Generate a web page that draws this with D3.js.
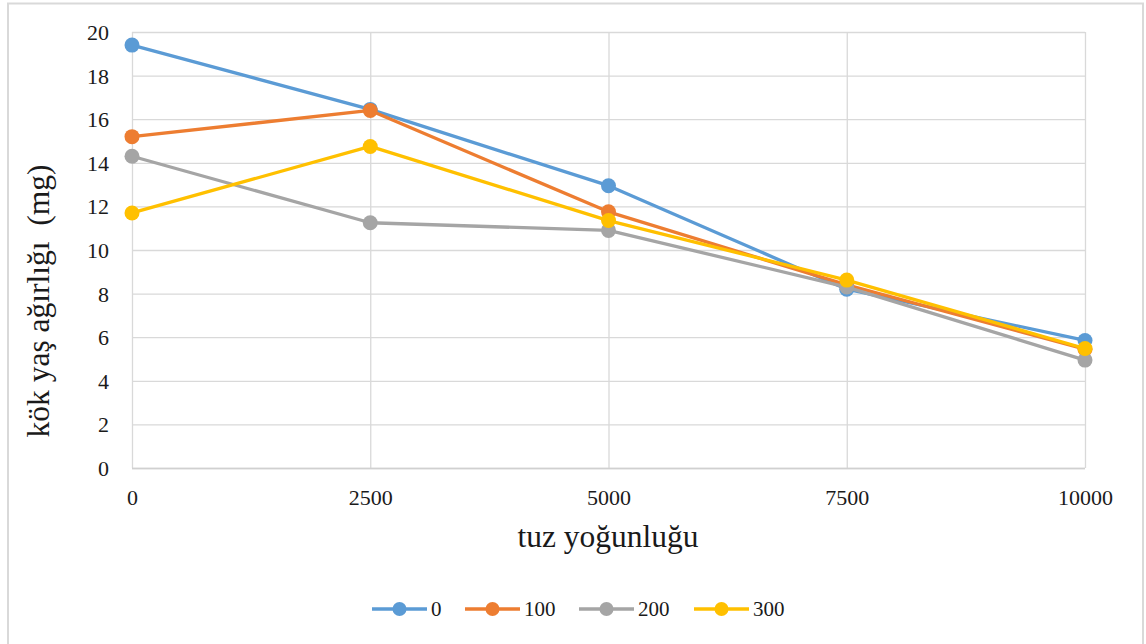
<!DOCTYPE html>
<html>
<head>
<meta charset="utf-8">
<script src="https://cdn.jsdelivr.net/npm/d3@7"></script>
<style>
  html, body { margin: 0; padding: 0; background: #ffffff; }
  svg { display: block; }
</style>
</head>
<body>
<svg id="chart" width="1146" height="644"></svg>
<script>
// Salt concentration levels on the x axis
const concentrations = [0, 2500, 5000, 7500, 10000];
// Series names (treatment doses)
const seriesNames = ["0", "100", "200", "300"];
// Root fresh weight (mg) per series
const values0   = [19.4, 16.45, 12.95, 8.2, 5.85];
const values100 = [15.2, 16.4, 11.75, 8.4, 5.45];
const values200 = [14.3, 11.25, 10.9, 8.3, 4.95];
const values300 = [11.7, 14.75, 11.35, 8.62, 5.48];
const seriesColors = ["#5b9bd5", "#ed7d31", "#a5a5a5", "#ffc000"];
const yTicks = [0, 2, 4, 6, 8, 10, 12, 14, 16, 18, 20];
const xTickLabels = ["0", "2500", "5000", "7500", "10000"];

const FONT = "'Liberation Serif'";
const TEXT_COLOR = "#1a1a1a";

const allValues = [values0, values100, values200, values300];
const series = seriesNames.map((name, i) => ({
  name,
  color: seriesColors[i],
  points: concentrations.map((c, j) => ({ x: c, y: allValues[i][j] }))
}));

const svg = d3.select("#chart");

// Chart frame
svg.append("rect")
  .attr("x", 8).attr("y", 3.5)
  .attr("width", 1135).attr("height", 650)
  .attr("fill", "#fff").attr("stroke", "#d9d9d9").attr("stroke-width", 2);

const plot = { left: 132, top: 32, right: 1085, bottom: 468 };

const x = d3.scaleLinear().domain([0, 10000]).range([plot.left, plot.right]);
const y = d3.scaleLinear().domain([0, 20]).range([plot.bottom, plot.top]);

// Horizontal gridlines and value labels
const yAxis = d3.axisLeft(y).tickValues(yTicks)
  .tickSize(-(plot.right - plot.left)).tickPadding(23).tickFormat(d3.format("d"));
const gy = svg.append("g").attr("transform", `translate(${plot.left},0)`).call(yAxis);
gy.select(".domain").remove();
gy.selectAll(".tick line").attr("stroke", "#d9d9d9").attr("stroke-width", 1.3);
gy.selectAll(".tick text")
  .style("font-family", FONT).style("font-size", "22px").style("fill", TEXT_COLOR)
  .attr("dy", "0.34em");

// Vertical gridlines at the concentration levels
const xAxis = d3.axisBottom(x).tickValues(concentrations)
  .tickSize(-(plot.bottom - plot.top)).tickFormat((d, i) => xTickLabels[i]);
const gx = svg.append("g").attr("transform", `translate(0,${plot.bottom})`).call(xAxis);
gx.select(".domain").remove();
gx.selectAll(".tick line").attr("stroke", "#d9d9d9").attr("stroke-width", 1.3);
gx.selectAll(".tick text")
  .style("font-family", FONT).style("font-size", "22px").style("fill", TEXT_COLOR)
  .attr("y", 37).attr("dy", 0);

// Baseline
svg.append("line")
  .attr("x1", plot.left).attr("x2", plot.right)
  .attr("y1", plot.bottom + 0.5).attr("y2", plot.bottom + 0.5)
  .attr("stroke", "#d0d0d0").attr("stroke-width", 1.5);

// Lines and markers
const line = d3.line().x(d => x(d.x)).y(d => y(d.y));
const gs = svg.append("g");
series.forEach(s => {
  const g = gs.append("g");
  g.append("path").datum(s.points)
    .attr("d", line).attr("fill", "none")
    .attr("stroke", s.color).attr("stroke-width", 3.3)
    .attr("stroke-linejoin", "round");
  g.selectAll("circle").data(s.points).enter().append("circle")
    .attr("cx", d => x(d.x)).attr("cy", d => y(d.y)).attr("r", 7.5)
    .attr("fill", s.color);
});

// Axis titles
svg.append("text")
  .attr("x", 608).attr("y", 547)
  .attr("text-anchor", "middle")
  .style("font-family", FONT).style("font-size", "31.5px").style("fill", TEXT_COLOR)
  .text("tuz yoğunluğu");

svg.append("text")
  .attr("transform", "translate(49,301) rotate(-90)")
  .attr("text-anchor", "middle")
  .style("font-family", FONT).style("font-size", "31.5px").style("fill", TEXT_COLOR)
  .style("white-space", "pre")
  .text("kök yaş ağırlığı  (mg)");

// Legend
const legendX = [372, 465, 579, 694];
const lg = svg.append("g").attr("transform", "translate(0,609)");
series.forEach((s, i) => {
  const g = lg.append("g").attr("transform", `translate(${legendX[i]},0)`);
  g.append("line").attr("x1", 0).attr("x2", 55).attr("y1", 0).attr("y2", 0)
    .attr("stroke", s.color).attr("stroke-width", 3.3);
  g.append("circle").attr("cx", 27.5).attr("cy", 0).attr("r", 7).attr("fill", s.color);
  g.append("text").attr("x", 59).attr("y", 7)
    .style("font-family", FONT).style("font-size", "21px").style("fill", TEXT_COLOR)
    .text(s.name);
});
</script>
</body>
</html>
